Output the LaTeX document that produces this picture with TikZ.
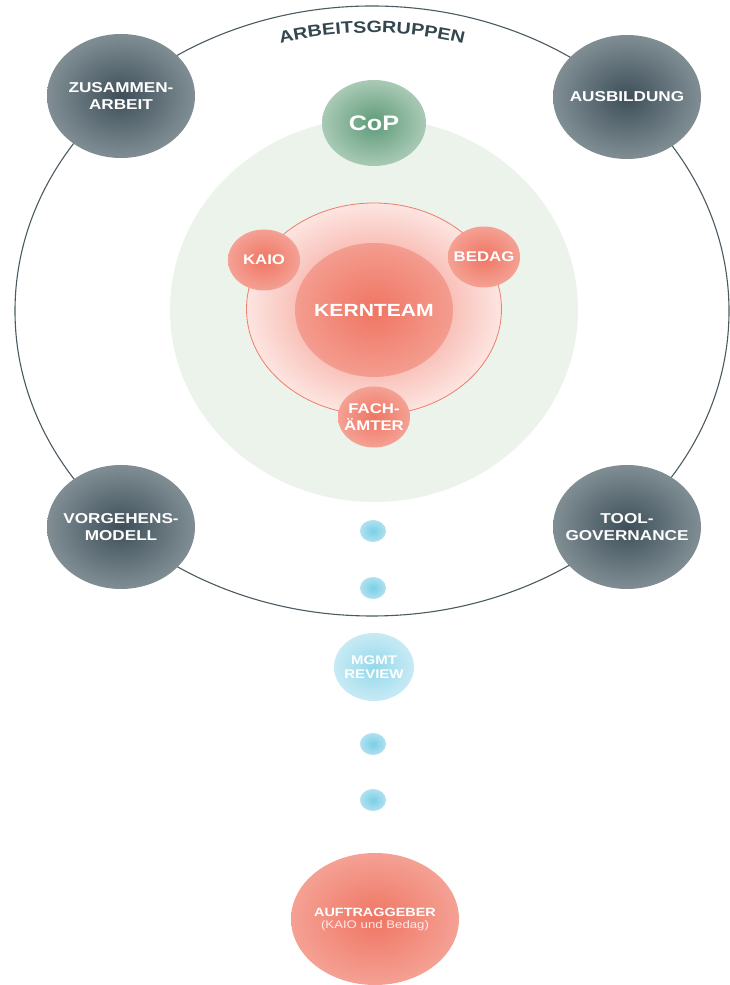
\documentclass[tikz,border=0pt]{standalone}
\usepackage{fontspec}
\newfontfamily\labfont[FakeStretch=1.2]{Liberation Sans}
\usetikzlibrary{shapes.geometric,decorations.text}
\definecolor{slate}{HTML}{34474F}
\definecolor{slatedark}{HTML}{3E4F59}
\definecolor{slatelight}{HTML}{808E94}
\definecolor{ringline}{HTML}{4A5A60}
\definecolor{copbg}{HTML}{EBF3EB}
\definecolor{copdark}{HTML}{5E9A79}
\definecolor{coplight}{HTML}{A9CAB5}
\definecolor{reddark}{HTML}{F07563}
\definecolor{redlight}{HTML}{F4A194}
\definecolor{rosedark}{HTML}{F2887A}
\definecolor{roselight}{HTML}{FDE5E1}
\definecolor{roseline}{HTML}{EF7D6D}
\definecolor{bluedark}{HTML}{79CFE6}
\definecolor{bluelight}{HTML}{B0E1F0}

\begin{document}
\begin{tikzpicture}[x=1pt, y=1pt,
    blob/.style={ellipse, inner sep=0pt, inner xsep=-8pt, align=center, text=white},
    group/.style={blob, inner xsep=-10pt, minimum width=148pt, minimum height=124pt,
        inner color=slatedark, outer color=slatelight,
        font=\labfont\bfseries\fontsize{14.3}{16.5}\selectfont},
    member/.style={blob, minimum width=72pt, minimum height=61pt,
        inner color=reddark, outer color=redlight,
        font=\labfont\bfseries\fontsize{14}{17}\selectfont},
    dot/.style={blob, minimum width=26pt, minimum height=22pt,
        inner color=bluedark, outer color=bluelight}]
    \useasboundingbox (0,0) rectangle (730,985);
    \node[ellipse, draw=ringline, line width=1.1pt, inner sep=0pt,
        minimum width=714pt, minimum height=610pt] (ring) at (372,674) {};
    \path[decorate, decoration={text along path, text align=center, text color=slate,
        text={|\labfont\bfseries\fontsize{16.5}{18}\selectfont|ARBEITSGRUPPEN}}]
        (207,915) arc[start angle=120, end angle=60, x radius=330pt, y radius=278pt];
    \node[ellipse, fill=copbg, inner sep=0pt,
        minimum width=408pt, minimum height=384pt] (cparea) at (374,675) {};
    \node[blob, minimum width=104pt, minimum height=86pt,
        inner color=copdark, outer color=coplight,
        font=\labfont\bfseries\fontsize{21}{24}\selectfont] (cop) at (374,862) {CoP};
    \node[group] (zus) at (121,889) {ZUSAMMEN-\\ARBEIT};
    \node[group] (ausb) at (627,888) {AUSBILDUNG};
    \node[group] (vorg) at (121,458) {VORGEHENS-\\MODELL};
    \node[group] (tool) at (627,458) {TOOL-\\GOVERNANCE};
    \node[ellipse, inner sep=0pt, draw=roseline, line width=0.8pt,
        inner color=rosedark, outer color=roselight,
        minimum width=255pt, minimum height=212pt] (core) at (374,676) {};
    \node[blob, minimum width=158pt, minimum height=134pt,
        inner color=reddark, outer color=redlight!90!reddark,
        font=\labfont\bfseries\fontsize{17.6}{20}\selectfont] (kern) at (374,675) {KERNTEAM};
    \node[member] (kaio) at (264,725) {KAIO};
    \node[member] (bedag) at (484,728) {BEDAG};
    \node[member] (fach) at (374,568) {FACH-\\ÄMTER};
    \foreach \y [count=\i] in {454,397,241,185}
        \node[dot] (dot\i) at (373,\y) {};
    \node[blob, minimum width=80pt, minimum height=68pt,
        inner color=bluedark!80!white, outer color=bluelight!70!white,
        font=\labfont\bfseries\fontsize{12.5}{14.7}\selectfont] (mgmt) at (374,318) {MGMT\\REVIEW};
    \node[blob, minimum width=168pt, minimum height=132pt,
        inner color=reddark, outer color=redlight] (auftrag) at (375,66)
        {{\labfont\bfseries\fontsize{12}{12.5}\selectfont AUFTRAGGEBER}\\
        {\labfont\fontsize{11}{12.5}\selectfont\color{white!85!reddark}(KAIO und Bedag)}};
\end{tikzpicture}
\end{document}
